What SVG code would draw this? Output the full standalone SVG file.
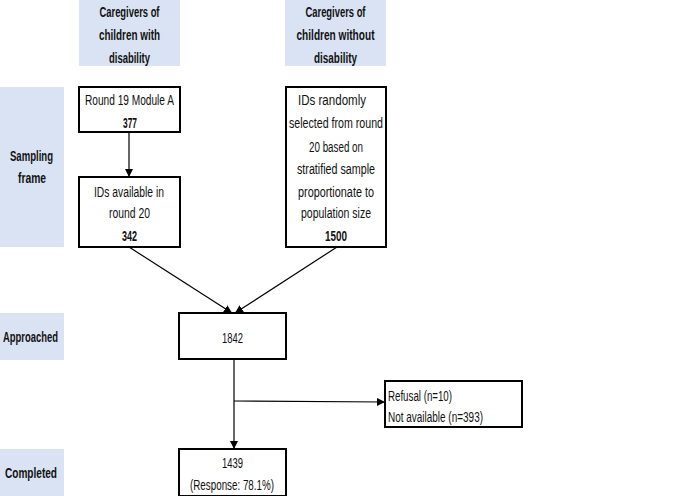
<svg xmlns="http://www.w3.org/2000/svg" width="685" height="496" viewBox="0 0 685 496">
<style>
.hdr{fill:#dae3f3}
.box{fill:#fff;stroke:#000;stroke-width:2}
text{font-family:"Liberation Sans",Arial,sans-serif;font-size:14px;fill:#111;text-anchor:middle;dominant-baseline:central}
.b{font-weight:bold}
.l{text-anchor:start}
.c{stroke:#000;stroke-width:1.2;fill:none;marker-end:url(#ah)}
</style>
<defs>
<marker id="ah" viewBox="0 0 10 10" refX="10" refY="5" markerWidth="8" markerHeight="8" markerUnits="userSpaceOnUse" orient="auto">
<path d="M0,0 L10,5 L0,10 z" fill="#000"/>
</marker>
</defs>
<rect width="685" height="496" fill="#fff"/>
<g id="hdr-with">
<rect class="hdr" x="79" y="0" width="101" height="66"/>
<text class="b" x="129.5" y="12" textLength="60" lengthAdjust="spacingAndGlyphs">Caregivers of</text>
<text class="b" x="129.5" y="35" textLength="61" lengthAdjust="spacingAndGlyphs">children with</text>
<text class="b" x="129.5" y="58" textLength="41" lengthAdjust="spacingAndGlyphs">disability</text>
</g>
<g id="hdr-without">
<rect class="hdr" x="285" y="0" width="101" height="66"/>
<text class="b" x="335.5" y="12" textLength="60" lengthAdjust="spacingAndGlyphs">Caregivers of</text>
<text class="b" x="335.5" y="35" textLength="78" lengthAdjust="spacingAndGlyphs">children without</text>
<text class="b" x="335.5" y="58" textLength="43" lengthAdjust="spacingAndGlyphs">disability</text>
</g>
<g id="lbl-sampling">
<rect class="hdr" x="0" y="87" width="64" height="160"/>
<text class="b" x="31.5" y="156" textLength="43" lengthAdjust="spacingAndGlyphs">Sampling</text>
<text class="b" x="32" y="178" textLength="28" lengthAdjust="spacingAndGlyphs">frame</text>
</g>
<g id="lbl-approached">
<rect class="hdr" x="0" y="313" width="64" height="47"/>
<text class="b" x="30.5" y="337" textLength="55" lengthAdjust="spacingAndGlyphs">Approached</text>
</g>
<g id="lbl-completed">
<rect class="hdr" x="0" y="449" width="64" height="47"/>
<text class="b" x="31" y="473" textLength="52" lengthAdjust="spacingAndGlyphs">Completed</text>
</g>
<g id="round19">
<rect class="box" x="79" y="87" width="101" height="45"/>
<text x="129.5" y="100" textLength="89" lengthAdjust="spacingAndGlyphs">Round 19 Module A</text>
<text class="b" x="130" y="123" textLength="14" lengthAdjust="spacingAndGlyphs">377</text>
</g>
<g id="round20">
<rect class="box" x="79" y="177" width="101" height="70"/>
<text x="129" y="192" textLength="70" lengthAdjust="spacingAndGlyphs">IDs available in</text>
<text x="129.5" y="213" textLength="41" lengthAdjust="spacingAndGlyphs">round 20</text>
<text class="b" x="129.5" y="236" textLength="15" lengthAdjust="spacingAndGlyphs">342</text>
</g>
<g id="random">
<rect class="box" x="286" y="87" width="100" height="160"/>
<text x="332" y="100" textLength="68" lengthAdjust="spacingAndGlyphs">IDs randomly</text>
<text x="336" y="123" textLength="94" lengthAdjust="spacingAndGlyphs">selected from round</text>
<text x="336" y="147" textLength="54" lengthAdjust="spacingAndGlyphs">20 based on</text>
<text x="336" y="169" textLength="78" lengthAdjust="spacingAndGlyphs">stratified sample</text>
<text x="336" y="192" textLength="76" lengthAdjust="spacingAndGlyphs">proportionate to</text>
<text x="336" y="213" textLength="70" lengthAdjust="spacingAndGlyphs">population size</text>
<text class="b" x="336" y="236" textLength="22" lengthAdjust="spacingAndGlyphs">1500</text>
</g>
<g id="approached">
<rect class="box" x="179" y="313" width="107" height="46"/>
<text x="232.5" y="338" textLength="21" lengthAdjust="spacingAndGlyphs">1842</text>
</g>
<g id="excluded">
<rect class="box" x="385" y="381" width="137" height="46"/>
<text class="l" x="388" y="396" textLength="64" lengthAdjust="spacingAndGlyphs">Refusal (n=10)</text>
<text class="l" x="388" y="417" textLength="95" lengthAdjust="spacingAndGlyphs">Not available (n=393)</text>
</g>
<g id="completed">
<rect class="box" x="179" y="449" width="107" height="47"/>
<text x="232.5" y="463" textLength="21" lengthAdjust="spacingAndGlyphs">1439</text>
<text x="232" y="485" textLength="84" lengthAdjust="spacingAndGlyphs">(Response: 78.1%)</text>
</g>
<g id="connectors">
<line class="c" x1="129" y1="132" x2="129" y2="177"/>
<line class="c" x1="129" y1="247" x2="232" y2="313"/>
<line class="c" x1="337" y1="247" x2="235" y2="313"/>
<line class="c" x1="234" y1="359" x2="234" y2="449"/>
<line class="c" x1="234" y1="401" x2="385" y2="402"/>
</g>
</svg>
